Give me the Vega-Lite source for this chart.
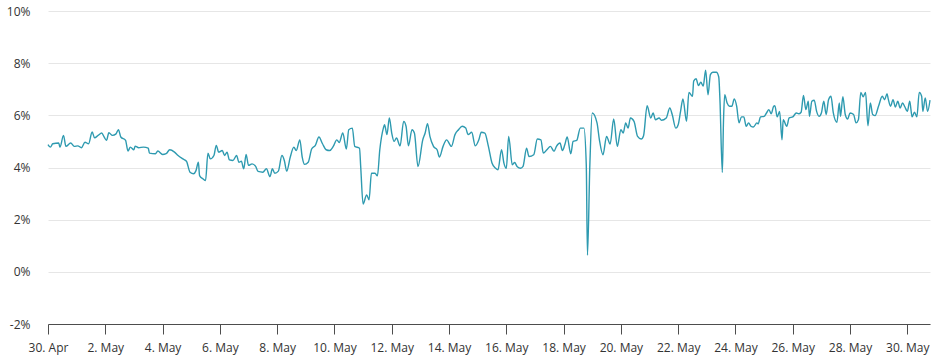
{
  "$schema": "https://vega.github.io/schema/vega-lite/v6.json",
  "width": 882,
  "height": 313,
  "autosize": {"type": "none"},
  "padding": {"left": 48, "top": 11, "right": 9, "bottom": 38},
  "background": "#ffffff",
  "config": {"view": {"stroke": null}, "font": "Open Sans"},
  "data": {"values": [
    {"t": "2023-04-30T00:00:00Z", "v": 4.88},
    {"t": "2023-04-30T02:00:00Z", "v": 4.78},
    {"t": "2023-04-30T04:00:00Z", "v": 4.91},
    {"t": "2023-04-30T09:00:00Z", "v": 4.94},
    {"t": "2023-04-30T10:00:00Z", "v": 4.78},
    {"t": "2023-04-30T13:00:00Z", "v": 5.23},
    {"t": "2023-04-30T15:00:00Z", "v": 4.81},
    {"t": "2023-04-30T19:00:00Z", "v": 4.94},
    {"t": "2023-04-30T22:00:00Z", "v": 4.81},
    {"t": "2023-05-01T01:00:00Z", "v": 4.83},
    {"t": "2023-05-01T04:00:00Z", "v": 4.76},
    {"t": "2023-05-01T07:00:00Z", "v": 4.97},
    {"t": "2023-05-01T10:00:00Z", "v": 4.91},
    {"t": "2023-05-01T13:00:00Z", "v": 5.36},
    {"t": "2023-05-01T15:00:00Z", "v": 5.14},
    {"t": "2023-05-01T18:00:00Z", "v": 5.23},
    {"t": "2023-05-01T21:00:00Z", "v": 5.32},
    {"t": "2023-05-01T23:00:00Z", "v": 5.17},
    {"t": "2023-05-02T01:00:00Z", "v": 5.04},
    {"t": "2023-05-02T03:00:00Z", "v": 5.33},
    {"t": "2023-05-02T06:00:00Z", "v": 5.23},
    {"t": "2023-05-02T09:00:00Z", "v": 5.29},
    {"t": "2023-05-02T11:00:00Z", "v": 5.45},
    {"t": "2023-05-02T13:00:00Z", "v": 5.17},
    {"t": "2023-05-02T17:00:00Z", "v": 5.04},
    {"t": "2023-05-02T19:00:00Z", "v": 4.63},
    {"t": "2023-05-02T21:00:00Z", "v": 4.78},
    {"t": "2023-05-03T00:00:00Z", "v": 4.68},
    {"t": "2023-05-03T01:00:00Z", "v": 4.82},
    {"t": "2023-05-03T04:00:00Z", "v": 4.76},
    {"t": "2023-05-03T08:00:00Z", "v": 4.78},
    {"t": "2023-05-03T12:00:00Z", "v": 4.74},
    {"t": "2023-05-03T13:00:00Z", "v": 4.55},
    {"t": "2023-05-03T18:00:00Z", "v": 4.53},
    {"t": "2023-05-03T20:00:00Z", "v": 4.63},
    {"t": "2023-05-04T00:00:00Z", "v": 4.5},
    {"t": "2023-05-04T03:00:00Z", "v": 4.53},
    {"t": "2023-05-04T06:00:00Z", "v": 4.68},
    {"t": "2023-05-04T10:00:00Z", "v": 4.59},
    {"t": "2023-05-04T13:00:00Z", "v": 4.46},
    {"t": "2023-05-04T17:00:00Z", "v": 4.33},
    {"t": "2023-05-04T20:00:00Z", "v": 4.24},
    {"t": "2023-05-04T23:00:00Z", "v": 3.82},
    {"t": "2023-05-05T02:00:00Z", "v": 3.76},
    {"t": "2023-05-05T04:00:00Z", "v": 3.88},
    {"t": "2023-05-05T06:00:00Z", "v": 4.2},
    {"t": "2023-05-05T07:00:00Z", "v": 3.69},
    {"t": "2023-05-05T10:00:00Z", "v": 3.56},
    {"t": "2023-05-05T12:00:00Z", "v": 3.5},
    {"t": "2023-05-05T14:00:00Z", "v": 4.55},
    {"t": "2023-05-05T16:00:00Z", "v": 4.33},
    {"t": "2023-05-05T19:00:00Z", "v": 4.46},
    {"t": "2023-05-05T21:00:00Z", "v": 4.85},
    {"t": "2023-05-05T23:00:00Z", "v": 4.59},
    {"t": "2023-05-06T02:00:00Z", "v": 4.65},
    {"t": "2023-05-06T04:00:00Z", "v": 4.46},
    {"t": "2023-05-06T06:00:00Z", "v": 4.59},
    {"t": "2023-05-06T08:00:00Z", "v": 4.29},
    {"t": "2023-05-06T11:00:00Z", "v": 4.27},
    {"t": "2023-05-06T14:00:00Z", "v": 4.46},
    {"t": "2023-05-06T16:00:00Z", "v": 4.2},
    {"t": "2023-05-06T18:00:00Z", "v": 4.24},
    {"t": "2023-05-06T20:00:00Z", "v": 3.95},
    {"t": "2023-05-06T22:00:00Z", "v": 4.5},
    {"t": "2023-05-07T00:00:00Z", "v": 4.08},
    {"t": "2023-05-07T03:00:00Z", "v": 4.14},
    {"t": "2023-05-07T06:00:00Z", "v": 4.04},
    {"t": "2023-05-07T08:00:00Z", "v": 3.85},
    {"t": "2023-05-07T12:00:00Z", "v": 3.82},
    {"t": "2023-05-07T15:00:00Z", "v": 3.95},
    {"t": "2023-05-07T18:00:00Z", "v": 3.65},
    {"t": "2023-05-07T20:00:00Z", "v": 3.95},
    {"t": "2023-05-07T22:00:00Z", "v": 3.78},
    {"t": "2023-05-08T01:00:00Z", "v": 3.86},
    {"t": "2023-05-08T04:00:00Z", "v": 4.46},
    {"t": "2023-05-08T06:00:00Z", "v": 4.27},
    {"t": "2023-05-08T08:00:00Z", "v": 3.86},
    {"t": "2023-05-08T11:00:00Z", "v": 4.4},
    {"t": "2023-05-08T14:00:00Z", "v": 4.78},
    {"t": "2023-05-08T16:00:00Z", "v": 4.65},
    {"t": "2023-05-08T19:00:00Z", "v": 5.06},
    {"t": "2023-05-08T21:00:00Z", "v": 4.4},
    {"t": "2023-05-08T23:00:00Z", "v": 4.12},
    {"t": "2023-05-09T02:00:00Z", "v": 4.2},
    {"t": "2023-05-09T05:00:00Z", "v": 4.72},
    {"t": "2023-05-09T08:00:00Z", "v": 4.85},
    {"t": "2023-05-09T11:00:00Z", "v": 5.17},
    {"t": "2023-05-09T14:00:00Z", "v": 4.91},
    {"t": "2023-05-09T17:00:00Z", "v": 4.68},
    {"t": "2023-05-09T20:00:00Z", "v": 4.65},
    {"t": "2023-05-09T23:00:00Z", "v": 4.81},
    {"t": "2023-05-10T02:00:00Z", "v": 5.06},
    {"t": "2023-05-10T04:00:00Z", "v": 4.96},
    {"t": "2023-05-10T07:00:00Z", "v": 5.32},
    {"t": "2023-05-10T10:00:00Z", "v": 4.71},
    {"t": "2023-05-10T12:00:00Z", "v": 5.45},
    {"t": "2023-05-10T15:00:00Z", "v": 5.51},
    {"t": "2023-05-10T17:00:00Z", "v": 4.81},
    {"t": "2023-05-10T21:00:00Z", "v": 4.74},
    {"t": "2023-05-10T22:00:00Z", "v": 4.04},
    {"t": "2023-05-11T00:00:00Z", "v": 2.6},
    {"t": "2023-05-11T03:00:00Z", "v": 2.95},
    {"t": "2023-05-11T05:00:00Z", "v": 2.76},
    {"t": "2023-05-11T07:00:00Z", "v": 3.78},
    {"t": "2023-05-11T10:00:00Z", "v": 3.78},
    {"t": "2023-05-11T12:00:00Z", "v": 3.68},
    {"t": "2023-05-11T14:00:00Z", "v": 4.68},
    {"t": "2023-05-11T17:00:00Z", "v": 5.51},
    {"t": "2023-05-11T18:00:00Z", "v": 5.64},
    {"t": "2023-05-11T20:00:00Z", "v": 5.26},
    {"t": "2023-05-11T22:00:00Z", "v": 5.9},
    {"t": "2023-05-12T00:00:00Z", "v": 5.32},
    {"t": "2023-05-12T02:00:00Z", "v": 5.0},
    {"t": "2023-05-12T04:00:00Z", "v": 5.13},
    {"t": "2023-05-12T07:00:00Z", "v": 4.83},
    {"t": "2023-05-12T10:00:00Z", "v": 5.77},
    {"t": "2023-05-12T12:00:00Z", "v": 5.58},
    {"t": "2023-05-12T14:00:00Z", "v": 4.83},
    {"t": "2023-05-12T17:00:00Z", "v": 5.45},
    {"t": "2023-05-12T19:00:00Z", "v": 5.32},
    {"t": "2023-05-12T22:00:00Z", "v": 4.04},
    {"t": "2023-05-13T02:00:00Z", "v": 5.06},
    {"t": "2023-05-13T04:00:00Z", "v": 5.32},
    {"t": "2023-05-13T06:00:00Z", "v": 5.68},
    {"t": "2023-05-13T08:00:00Z", "v": 5.19},
    {"t": "2023-05-13T11:00:00Z", "v": 4.81},
    {"t": "2023-05-13T14:00:00Z", "v": 4.68},
    {"t": "2023-05-13T16:00:00Z", "v": 4.4},
    {"t": "2023-05-13T19:00:00Z", "v": 4.81},
    {"t": "2023-05-13T22:00:00Z", "v": 5.06},
    {"t": "2023-05-14T02:00:00Z", "v": 4.81},
    {"t": "2023-05-14T05:00:00Z", "v": 5.26},
    {"t": "2023-05-14T08:00:00Z", "v": 5.45},
    {"t": "2023-05-14T11:00:00Z", "v": 5.58},
    {"t": "2023-05-14T14:00:00Z", "v": 5.51},
    {"t": "2023-05-14T16:00:00Z", "v": 5.26},
    {"t": "2023-05-14T19:00:00Z", "v": 5.35},
    {"t": "2023-05-14T22:00:00Z", "v": 4.83},
    {"t": "2023-05-15T01:00:00Z", "v": 5.06},
    {"t": "2023-05-15T03:00:00Z", "v": 5.35},
    {"t": "2023-05-15T06:00:00Z", "v": 5.32},
    {"t": "2023-05-15T09:00:00Z", "v": 4.81},
    {"t": "2023-05-15T12:00:00Z", "v": 4.17},
    {"t": "2023-05-15T15:00:00Z", "v": 3.97},
    {"t": "2023-05-15T17:00:00Z", "v": 3.91},
    {"t": "2023-05-15T20:00:00Z", "v": 4.68},
    {"t": "2023-05-15T22:00:00Z", "v": 4.17},
    {"t": "2023-05-16T00:00:00Z", "v": 3.97},
    {"t": "2023-05-16T02:00:00Z", "v": 5.19},
    {"t": "2023-05-16T05:00:00Z", "v": 4.1},
    {"t": "2023-05-16T07:00:00Z", "v": 4.19},
    {"t": "2023-05-16T09:00:00Z", "v": 4.04},
    {"t": "2023-05-16T12:00:00Z", "v": 3.97},
    {"t": "2023-05-16T14:00:00Z", "v": 4.04},
    {"t": "2023-05-16T17:00:00Z", "v": 4.74},
    {"t": "2023-05-16T19:00:00Z", "v": 4.42},
    {"t": "2023-05-16T23:00:00Z", "v": 4.49},
    {"t": "2023-05-17T02:00:00Z", "v": 5.09},
    {"t": "2023-05-17T05:00:00Z", "v": 5.06},
    {"t": "2023-05-17T07:00:00Z", "v": 4.55},
    {"t": "2023-05-17T10:00:00Z", "v": 4.68},
    {"t": "2023-05-17T13:00:00Z", "v": 4.81},
    {"t": "2023-05-17T16:00:00Z", "v": 4.62},
    {"t": "2023-05-17T18:00:00Z", "v": 4.81},
    {"t": "2023-05-17T21:00:00Z", "v": 4.94},
    {"t": "2023-05-17T23:00:00Z", "v": 4.65},
    {"t": "2023-05-18T01:00:00Z", "v": 4.87},
    {"t": "2023-05-18T03:00:00Z", "v": 5.17},
    {"t": "2023-05-18T06:00:00Z", "v": 4.53},
    {"t": "2023-05-18T08:00:00Z", "v": 5.0},
    {"t": "2023-05-18T11:00:00Z", "v": 5.04},
    {"t": "2023-05-18T14:00:00Z", "v": 5.51},
    {"t": "2023-05-18T17:00:00Z", "v": 5.51},
    {"t": "2023-05-18T19:00:00Z", "v": 4.1},
    {"t": "2023-05-18T20:00:00Z", "v": 0.64},
    {"t": "2023-05-18T22:00:00Z", "v": 4.1},
    {"t": "2023-05-19T00:00:00Z", "v": 6.09},
    {"t": "2023-05-19T04:00:00Z", "v": 5.71},
    {"t": "2023-05-19T06:00:00Z", "v": 5.06},
    {"t": "2023-05-19T09:00:00Z", "v": 4.49},
    {"t": "2023-05-19T12:00:00Z", "v": 5.19},
    {"t": "2023-05-19T15:00:00Z", "v": 4.9},
    {"t": "2023-05-19T18:00:00Z", "v": 5.86},
    {"t": "2023-05-19T21:00:00Z", "v": 4.81},
    {"t": "2023-05-20T00:00:00Z", "v": 5.45},
    {"t": "2023-05-20T02:00:00Z", "v": 5.32},
    {"t": "2023-05-20T04:00:00Z", "v": 5.71},
    {"t": "2023-05-20T06:00:00Z", "v": 5.51},
    {"t": "2023-05-20T08:00:00Z", "v": 5.9},
    {"t": "2023-05-20T11:00:00Z", "v": 5.77},
    {"t": "2023-05-20T14:00:00Z", "v": 5.19},
    {"t": "2023-05-20T17:00:00Z", "v": 5.09},
    {"t": "2023-05-20T19:00:00Z", "v": 5.22},
    {"t": "2023-05-20T22:00:00Z", "v": 6.37},
    {"t": "2023-05-21T01:00:00Z", "v": 5.9},
    {"t": "2023-05-21T03:00:00Z", "v": 6.09},
    {"t": "2023-05-21T05:00:00Z", "v": 5.83},
    {"t": "2023-05-21T08:00:00Z", "v": 5.9},
    {"t": "2023-05-21T10:00:00Z", "v": 5.81},
    {"t": "2023-05-21T14:00:00Z", "v": 5.9},
    {"t": "2023-05-21T17:00:00Z", "v": 6.28},
    {"t": "2023-05-21T19:00:00Z", "v": 6.03},
    {"t": "2023-05-21T22:00:00Z", "v": 5.51},
    {"t": "2023-05-22T00:00:00Z", "v": 5.64},
    {"t": "2023-05-22T02:00:00Z", "v": 6.15},
    {"t": "2023-05-22T04:00:00Z", "v": 6.63},
    {"t": "2023-05-22T07:00:00Z", "v": 5.77},
    {"t": "2023-05-22T09:00:00Z", "v": 6.88},
    {"t": "2023-05-22T12:00:00Z", "v": 6.73},
    {"t": "2023-05-22T13:00:00Z", "v": 7.31},
    {"t": "2023-05-22T15:00:00Z", "v": 7.4},
    {"t": "2023-05-22T17:00:00Z", "v": 7.14},
    {"t": "2023-05-22T19:00:00Z", "v": 7.27},
    {"t": "2023-05-22T21:00:00Z", "v": 7.12},
    {"t": "2023-05-22T23:00:00Z", "v": 7.73},
    {"t": "2023-05-23T01:00:00Z", "v": 6.79},
    {"t": "2023-05-23T03:00:00Z", "v": 7.56},
    {"t": "2023-05-23T05:00:00Z", "v": 7.65},
    {"t": "2023-05-23T08:00:00Z", "v": 7.65},
    {"t": "2023-05-23T10:00:00Z", "v": 7.47},
    {"t": "2023-05-23T11:00:00Z", "v": 6.6},
    {"t": "2023-05-23T13:00:00Z", "v": 3.81},
    {"t": "2023-05-23T14:00:00Z", "v": 5.83},
    {"t": "2023-05-23T15:00:00Z", "v": 6.79},
    {"t": "2023-05-23T17:00:00Z", "v": 6.47},
    {"t": "2023-05-23T19:00:00Z", "v": 6.35},
    {"t": "2023-05-23T21:00:00Z", "v": 6.35},
    {"t": "2023-05-23T23:00:00Z", "v": 6.63},
    {"t": "2023-05-24T01:00:00Z", "v": 6.35},
    {"t": "2023-05-24T03:00:00Z", "v": 5.71},
    {"t": "2023-05-24T05:00:00Z", "v": 5.94},
    {"t": "2023-05-24T07:00:00Z", "v": 5.94},
    {"t": "2023-05-24T09:00:00Z", "v": 5.58},
    {"t": "2023-05-24T11:00:00Z", "v": 5.71},
    {"t": "2023-05-24T13:00:00Z", "v": 5.58},
    {"t": "2023-05-24T15:00:00Z", "v": 5.55},
    {"t": "2023-05-24T18:00:00Z", "v": 5.71},
    {"t": "2023-05-24T19:00:00Z", "v": 5.67},
    {"t": "2023-05-24T21:00:00Z", "v": 5.94},
    {"t": "2023-05-25T00:00:00Z", "v": 5.96},
    {"t": "2023-05-25T02:00:00Z", "v": 6.09},
    {"t": "2023-05-25T04:00:00Z", "v": 6.22},
    {"t": "2023-05-25T06:00:00Z", "v": 6.06},
    {"t": "2023-05-25T08:00:00Z", "v": 6.35},
    {"t": "2023-05-25T09:00:00Z", "v": 6.37},
    {"t": "2023-05-25T11:00:00Z", "v": 5.94},
    {"t": "2023-05-25T13:00:00Z", "v": 6.15},
    {"t": "2023-05-25T15:00:00Z", "v": 5.06},
    {"t": "2023-05-25T16:00:00Z", "v": 5.83},
    {"t": "2023-05-25T19:00:00Z", "v": 5.58},
    {"t": "2023-05-25T21:00:00Z", "v": 5.9},
    {"t": "2023-05-26T00:00:00Z", "v": 5.94},
    {"t": "2023-05-26T03:00:00Z", "v": 6.09},
    {"t": "2023-05-26T05:00:00Z", "v": 6.06},
    {"t": "2023-05-26T07:00:00Z", "v": 6.12},
    {"t": "2023-05-26T09:00:00Z", "v": 6.76},
    {"t": "2023-05-26T11:00:00Z", "v": 6.22},
    {"t": "2023-05-26T13:00:00Z", "v": 6.54},
    {"t": "2023-05-26T14:00:00Z", "v": 5.96},
    {"t": "2023-05-26T16:00:00Z", "v": 6.54},
    {"t": "2023-05-26T18:00:00Z", "v": 6.58},
    {"t": "2023-05-26T20:00:00Z", "v": 6.15},
    {"t": "2023-05-26T22:00:00Z", "v": 5.96},
    {"t": "2023-05-27T00:00:00Z", "v": 6.09},
    {"t": "2023-05-27T02:00:00Z", "v": 6.54},
    {"t": "2023-05-27T04:00:00Z", "v": 6.03},
    {"t": "2023-05-27T06:00:00Z", "v": 6.6},
    {"t": "2023-05-27T08:00:00Z", "v": 6.73},
    {"t": "2023-05-27T10:00:00Z", "v": 6.09},
    {"t": "2023-05-27T13:00:00Z", "v": 5.73},
    {"t": "2023-05-27T15:00:00Z", "v": 6.47},
    {"t": "2023-05-27T16:00:00Z", "v": 5.96},
    {"t": "2023-05-27T18:00:00Z", "v": 6.71},
    {"t": "2023-05-27T20:00:00Z", "v": 6.03},
    {"t": "2023-05-27T22:00:00Z", "v": 5.86},
    {"t": "2023-05-28T00:00:00Z", "v": 6.09},
    {"t": "2023-05-28T03:00:00Z", "v": 6.03},
    {"t": "2023-05-28T05:00:00Z", "v": 5.71},
    {"t": "2023-05-28T07:00:00Z", "v": 5.83},
    {"t": "2023-05-28T09:00:00Z", "v": 6.88},
    {"t": "2023-05-28T11:00:00Z", "v": 6.71},
    {"t": "2023-05-28T13:00:00Z", "v": 6.88},
    {"t": "2023-05-28T15:00:00Z", "v": 5.6},
    {"t": "2023-05-28T17:00:00Z", "v": 6.47},
    {"t": "2023-05-28T19:00:00Z", "v": 6.03},
    {"t": "2023-05-28T21:00:00Z", "v": 5.99},
    {"t": "2023-05-29T00:00:00Z", "v": 6.37},
    {"t": "2023-05-29T03:00:00Z", "v": 6.73},
    {"t": "2023-05-29T05:00:00Z", "v": 6.6},
    {"t": "2023-05-29T07:00:00Z", "v": 6.83},
    {"t": "2023-05-29T08:00:00Z", "v": 6.63},
    {"t": "2023-05-29T10:00:00Z", "v": 6.35},
    {"t": "2023-05-29T12:00:00Z", "v": 6.6},
    {"t": "2023-05-29T14:00:00Z", "v": 6.32},
    {"t": "2023-05-29T16:00:00Z", "v": 6.54},
    {"t": "2023-05-29T18:00:00Z", "v": 6.28},
    {"t": "2023-05-29T20:00:00Z", "v": 6.47},
    {"t": "2023-05-29T22:00:00Z", "v": 6.32},
    {"t": "2023-05-30T00:00:00Z", "v": 6.15},
    {"t": "2023-05-30T02:00:00Z", "v": 6.54},
    {"t": "2023-05-30T04:00:00Z", "v": 5.94},
    {"t": "2023-05-30T06:00:00Z", "v": 6.12},
    {"t": "2023-05-30T08:00:00Z", "v": 5.94},
    {"t": "2023-05-30T10:00:00Z", "v": 6.88},
    {"t": "2023-05-30T12:00:00Z", "v": 6.73},
    {"t": "2023-05-30T13:00:00Z", "v": 6.15},
    {"t": "2023-05-30T15:00:00Z", "v": 6.67},
    {"t": "2023-05-30T17:00:00Z", "v": 6.15},
    {"t": "2023-05-30T19:00:00Z", "v": 6.58}
  ]},
  "mark": {"type": "line", "color": "#2e9ab0", "strokeWidth": 1.4, "interpolate": "monotone"},
  "encoding": {
    "x": {
      "field": "t",
      "type": "temporal",
      "scale": {"type": "utc", "domain": [{"year": 2023, "month": 4, "date": 30, "hours": 0, "utc": true}, {"year": 2023, "month": 5, "date": 30, "hours": 19, "utc": true}], "nice": false},
      "axis": {
        "title": null,
        "values": [
          {"year": 2023, "month": 4, "date": 30, "utc": true},
          {"year": 2023, "month": 5, "date": 2, "utc": true},
          {"year": 2023, "month": 5, "date": 4, "utc": true},
          {"year": 2023, "month": 5, "date": 6, "utc": true},
          {"year": 2023, "month": 5, "date": 8, "utc": true},
          {"year": 2023, "month": 5, "date": 10, "utc": true},
          {"year": 2023, "month": 5, "date": 12, "utc": true},
          {"year": 2023, "month": 5, "date": 14, "utc": true},
          {"year": 2023, "month": 5, "date": 16, "utc": true},
          {"year": 2023, "month": 5, "date": 18, "utc": true},
          {"year": 2023, "month": 5, "date": 20, "utc": true},
          {"year": 2023, "month": 5, "date": 22, "utc": true},
          {"year": 2023, "month": 5, "date": 24, "utc": true},
          {"year": 2023, "month": 5, "date": 26, "utc": true},
          {"year": 2023, "month": 5, "date": 28, "utc": true},
          {"year": 2023, "month": 5, "date": 30, "utc": true}
        ],
        "labelExpr": "utcFormat(datum.value, '%-d. %b')",
        "grid": false,
        "domainColor": "#4d4d4d",
        "tickColor": "#4d4d4d",
        "tickSize": 10,
        "labelPadding": 8,
        "labelFontSize": 12,
        "labelColor": "#333333",
        "labelFont": "Open Sans",
        "labelFlush": false,
        "labelOverlap": false
      }
    },
    "y": {
      "field": "v",
      "type": "quantitative",
      "scale": {"domain": [-2, 10], "nice": false, "zero": false},
      "axis": {
        "title": null,
        "values": [-2, 0, 2, 4, 6, 8, 10],
        "labelExpr": "datum.value + '%'",
        "domain": false,
        "ticks": false,
        "tickSize": 0,
        "labelPadding": 18,
        "gridColor": "#e6e6e6",
        "gridWidth": 1,
        "labelFontSize": 12,
        "labelColor": "#333333",
        "labelFont": "Open Sans"
      }
    }
  }
}
